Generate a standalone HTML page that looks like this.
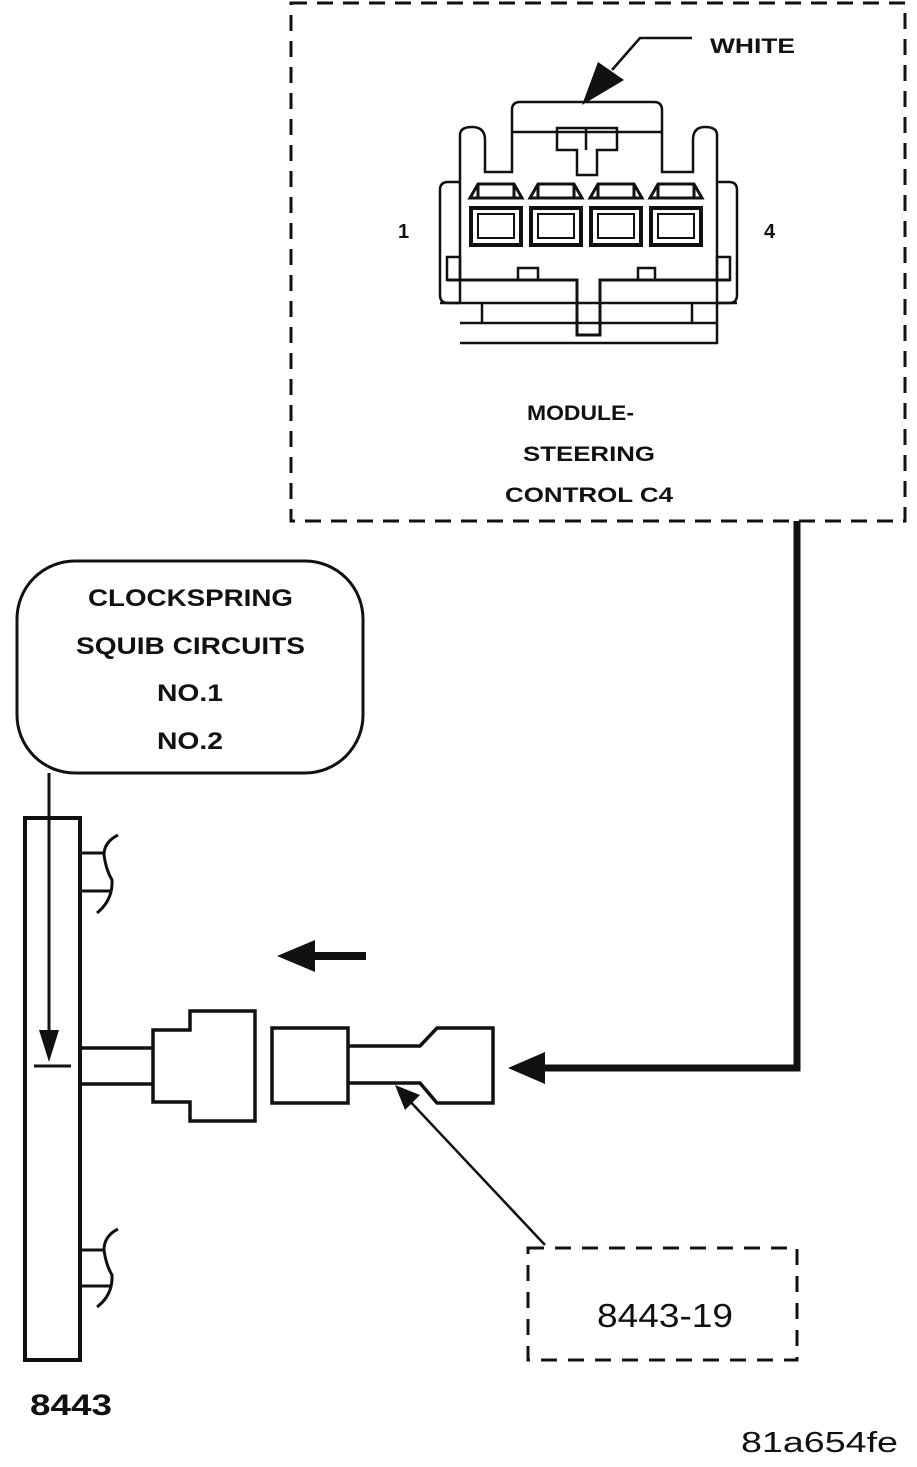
<!DOCTYPE html>
<html><head><style>
html,body{margin:0;padding:0;background:#fff;}
svg{display:block;}
text{font-family:"Liberation Sans",Arial,sans-serif;fill:#111;}
</style></head><body>
<svg width="917" height="1467" viewBox="0 0 917 1467" xmlns="http://www.w3.org/2000/svg">
<g fill="none" stroke="#111">
<rect x="291" y="3" width="614" height="518" stroke-width="3" stroke-dasharray="16,10"/>
<g stroke-width="2.5">
<path d="M460,303 V135 Q460,127 472,127 Q485,127 485,140 V172 H512 V110 Q512,102 520,102 H654 Q662,102 662,110 V172 H693 V140 Q693,127 705,127 Q717,127 717,135 V343 H460"/>
<line x1="512" y1="132" x2="662" y2="132"/>
<path d="M557,128 H617 V150 H597 V175 H577 V150 H557 Z"/>
<line x1="586" y1="128" x2="586" y2="150"/>
<path d="M460,182 H448 Q440,182 440,190 V295 Q440,303 448,303 H460"/>
<path d="M717,182 H729 Q737,182 737,190 V295 Q737,303 729,303 H717"/>
<line x1="440" y1="303" x2="737" y2="303"/>
<line x1="460" y1="323" x2="717" y2="323"/>
<line x1="482" y1="303" x2="482" y2="323"/>
<line x1="692" y1="303" x2="692" y2="323"/>
<rect x="447" y="257" width="13" height="23"/>
<rect x="717" y="257" width="13" height="23"/>
<path d="M447,280 H577 V335 H600 V280 H730" stroke-width="3"/>
<rect x="518" y="268" width="20" height="12"/>
<rect x="638" y="268" width="17" height="12"/>
</g>
<g stroke-width="3">
<path d="M470,198 L478,184 H514 L522,198 Z M478,184 V198 M514,184 V198"/>
<rect x="471" y="208" width="50" height="37" stroke-width="4"/>
<rect x="478" y="214" width="36" height="24" stroke-width="2"/>
<path d="M530,198 L538,184 H574 L582,198 Z M538,184 V198 M574,184 V198"/>
<rect x="531" y="208" width="50" height="37" stroke-width="4"/>
<rect x="538" y="214" width="36" height="24" stroke-width="2"/>
<path d="M590,198 L598,184 H634 L642,198 Z M598,184 V198 M634,184 V198"/>
<rect x="591" y="208" width="50" height="37" stroke-width="4"/>
<rect x="598" y="214" width="36" height="24" stroke-width="2"/>
<path d="M650,198 L658,184 H694 L702,198 Z M658,184 V198 M694,184 V198"/>
<rect x="651" y="208" width="50" height="37" stroke-width="4"/>
<rect x="658" y="214" width="36" height="24" stroke-width="2"/>
</g>
<path d="M692,38 H640 L612,70" stroke-width="2.5"/>
<path d="M797,521 V1068 H540" stroke-width="7"/>
<rect x="17" y="561" width="346" height="212" rx="58" ry="58" stroke-width="3"/>
<line x1="49" y1="773" x2="49" y2="1040" stroke-width="3"/>
<line x1="34" y1="1066" x2="71" y2="1066" stroke-width="3"/>
<rect x="25" y="818" width="55" height="542" stroke-width="4"/>
<g stroke-width="3">
<line x1="80" y1="853" x2="104" y2="853"/><line x1="80" y1="891" x2="110" y2="891"/>
<path d="M118,835 Q104,842 104,855 Q106,870 112,880 Q113,900 97,913"/>
<line x1="80" y1="1250" x2="104" y2="1250"/><line x1="80" y1="1286" x2="110" y2="1286"/>
<path d="M118,1229 Q104,1236 104,1250 Q106,1265 112,1275 Q113,1295 97,1307"/>
</g>
<line x1="310" y1="956" x2="366" y2="956" stroke-width="8"/>
<g stroke-width="3.5">
<line x1="80" y1="1048" x2="153" y2="1048"/><line x1="80" y1="1084" x2="153" y2="1084"/>
<path d="M153,1030 H190 V1011 H255 V1121 H190 V1102 H153 Z"/>
<rect x="272" y="1028" width="76" height="75"/>
<path d="M348,1046 H420 L437,1028 H493 V1103 H437 L420,1083 H348"/>
</g>
<line x1="545" y1="1245" x2="405" y2="1096" stroke-width="2.5"/>
<rect x="528" y="1248" width="269" height="112" stroke-width="3" stroke-dasharray="16,11"/>
</g>
<g fill="#111">
<polygon points="582,105 598,62 624,80"/>
<polygon points="508,1068 545,1052 545,1084"/>
<polygon points="49,1062 39,1030 59,1030"/>
<polygon points="277,956 315,940 315,972"/>
<polygon points="395,1085 420,1095 405,1110"/>
</g>
<text x="710" y="53" font-size="21" font-weight="bold" textLength="85" lengthAdjust="spacingAndGlyphs">WHITE</text>
<text x="398" y="238" font-size="20" font-weight="bold">1</text>
<text x="764" y="238" font-size="20" font-weight="bold">4</text>
<g font-size="21" font-weight="bold">
<text x="527" y="420" textLength="107" lengthAdjust="spacingAndGlyphs">MODULE-</text>
<text x="523" y="461" textLength="132" lengthAdjust="spacingAndGlyphs">STEERING</text>
<text x="505" y="502" textLength="168" lengthAdjust="spacingAndGlyphs">CONTROL C4</text>
</g>
<g font-size="24" font-weight="bold" fill="#222">
<text x="88" y="606" textLength="205" lengthAdjust="spacingAndGlyphs">CLOCKSPRING</text>
<text x="76" y="654" textLength="229" lengthAdjust="spacingAndGlyphs">SQUIB CIRCUITS</text>
<text x="157" y="701" textLength="66" lengthAdjust="spacingAndGlyphs">NO.1</text>
<text x="157" y="749" textLength="66" lengthAdjust="spacingAndGlyphs">NO.2</text>
</g>
<text x="597" y="1327" font-size="33" textLength="136" lengthAdjust="spacingAndGlyphs">8443-19</text>
<text x="30" y="1415" font-size="30" font-weight="bold" textLength="82" lengthAdjust="spacingAndGlyphs">8443</text>
<text x="741" y="1452" font-size="29" textLength="157" lengthAdjust="spacingAndGlyphs">81a654fe</text>
</svg>
</body></html>
